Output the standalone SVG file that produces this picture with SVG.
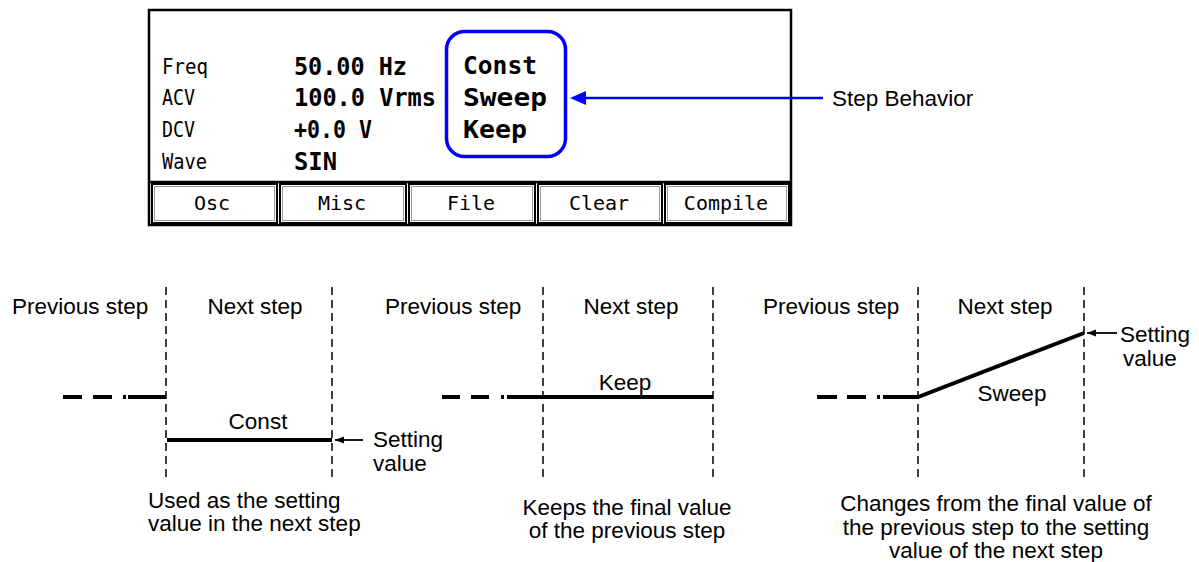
<svg xmlns="http://www.w3.org/2000/svg" width="1199" height="562" viewBox="0 0 1199 562">
<defs>
<style>
.lbl{font-family:"DejaVu Sans Mono","Liberation Mono",monospace;font-size:20.5px;fill:#000}
.val{font-family:"DejaVu Sans Mono","Liberation Mono",monospace;font-size:24.5px;font-weight:bold;fill:#000}
.btn{font-family:"DejaVu Sans Mono","Liberation Mono",monospace;font-size:20px;fill:#000;text-anchor:middle}
.t{font-family:"Liberation Sans",Arial,Helvetica,sans-serif;font-size:22.5px;fill:#000}
.c{text-anchor:middle}
.vd{stroke:#000;stroke-width:1.5;stroke-dasharray:8,5;fill:none}
.thick{stroke:#000;stroke-width:4;fill:none}
.bo{fill:#fff;stroke:#000;stroke-width:2}
.bi{fill:none;stroke:#999;stroke-width:1}
</style>
<marker id="ah" viewBox="0 0 10 10" refX="10" refY="5" markerWidth="9" markerHeight="9" markerUnits="userSpaceOnUse" orient="auto">
<path d="M0,1 L10,5 L0,9 z" fill="#000"/>
</marker>
</defs>
<rect width="1199" height="562" fill="#fff"/>

<g id="screen">
<rect x="149" y="10" width="642" height="215" fill="#fff" stroke="#000" stroke-width="2.5"/>
<line x1="149" y1="182" x2="791" y2="182" stroke="#000" stroke-width="2.5"/>
<text class="lbl" x="162" y="74" textLength="46" lengthAdjust="spacingAndGlyphs">Freq</text>
<text class="lbl" x="162" y="105" textLength="33" lengthAdjust="spacingAndGlyphs">ACV</text>
<text class="lbl" x="162" y="137" textLength="33" lengthAdjust="spacingAndGlyphs">DCV</text>
<text class="lbl" x="162" y="169" textLength="45" lengthAdjust="spacingAndGlyphs">Wave</text>
<text class="val" x="294" y="75" textLength="113" lengthAdjust="spacingAndGlyphs">50.00 Hz</text>
<text class="val" x="294" y="106" textLength="142" lengthAdjust="spacingAndGlyphs">100.0 Vrms</text>
<text class="val" x="294" y="138" textLength="78" lengthAdjust="spacingAndGlyphs">+0.0 V</text>
<text class="val" x="294" y="170" textLength="43" lengthAdjust="spacingAndGlyphs">SIN</text>
<text class="val" x="463" y="74" textLength="74" lengthAdjust="spacingAndGlyphs">Const</text>
<text class="val" x="463" y="106" textLength="84" lengthAdjust="spacingAndGlyphs">Sweep</text>
<text class="val" x="463" y="138" textLength="64" lengthAdjust="spacingAndGlyphs">Keep</text>
</g>

<g id="btn-osc">
<rect class="bo" x="152" y="184" width="125" height="39"/>
<rect class="bi" x="154.5" y="186.5" width="120" height="34"/>
<text class="btn" x="212" y="210">Osc</text>
</g>
<g id="btn-misc">
<rect class="bo" x="280" y="184" width="126" height="39"/>
<rect class="bi" x="282.5" y="186.5" width="121" height="34"/>
<text class="btn" x="342" y="210">Misc</text>
</g>
<g id="btn-file">
<rect class="bo" x="409" y="184" width="126" height="39"/>
<rect class="bi" x="411.5" y="186.5" width="121" height="34"/>
<text class="btn" x="471" y="210">File</text>
</g>
<g id="btn-clear">
<rect class="bo" x="538" y="184" width="124" height="39"/>
<rect class="bi" x="540.5" y="186.5" width="119" height="34"/>
<text class="btn" x="599" y="210">Clear</text>
</g>
<g id="btn-compile">
<rect class="bo" x="665" y="184" width="124" height="39"/>
<rect class="bi" x="667.5" y="186.5" width="119" height="34"/>
<text class="btn" x="726" y="210">Compile</text>
</g>

<g id="step-behavior-box">
<rect x="446.5" y="31.5" width="119" height="125" rx="18" ry="18" fill="none" stroke="#0000ff" stroke-width="3.5"/>
</g>
<g id="step-behavior-label">
<text class="t" x="832" y="106">Step Behavior</text>
</g>

<g id="panel-const">
<text class="t" x="12" y="314">Previous step</text>
<text class="t c" x="255" y="314">Next step</text>
<text class="t c" x="258" y="429">Const</text>
<text class="t" x="373" y="447">Setting</text>
<text class="t" x="373" y="471">value</text>
<text class="t" x="148" y="508">Used as the setting</text>
<text class="t" x="148" y="531">value in the next step</text>
</g>

<g id="panel-keep">
<text class="t" x="385" y="314">Previous step</text>
<text class="t c" x="631" y="314">Next step</text>
<text class="t c" x="625" y="390">Keep</text>
<text class="t c" x="627" y="515">Keeps the final value</text>
<text class="t c" x="627" y="538">of the previous step</text>
</g>

<g id="panel-sweep">
<text class="t" x="763" y="314">Previous step</text>
<text class="t c" x="1005" y="314">Next step</text>
<text class="t c" x="1012" y="401">Sweep</text>
<text class="t" x="1120" y="342">Setting</text>
<text class="t" x="1123" y="366">value</text>
<text class="t c" x="996" y="511">Changes from the final value of</text>
<text class="t c" x="996" y="535">the previous step to the setting</text>
<text class="t c" x="996" y="558">value of the next step</text>
</g>

<g id="connectors">
<line x1="823" y1="98" x2="584" y2="98" stroke="#0000ff" stroke-width="2.5"/>
<path d="M570,98 L586,91 L586,105 z" fill="#0000ff"/>

<line class="vd" x1="166" y1="287" x2="166" y2="481"/>
<line class="vd" x1="332" y1="287" x2="332" y2="481"/>
<line class="vd" x1="543" y1="287" x2="543" y2="481"/>
<line class="vd" x1="713" y1="287" x2="713" y2="481"/>
<line class="vd" x1="918" y1="287" x2="918" y2="481"/>
<line class="vd" x1="1084" y1="287" x2="1084" y2="481"/>

<path class="thick" d="M63,397 H82 M93,397 H112 M123,397 H126 M128,397 H166"/>
<path class="thick" d="M167,440 H332"/>
<line x1="363" y1="440" x2="335" y2="440" stroke="#000" stroke-width="1.8" marker-end="url(#ah)"/>

<path class="thick" d="M442,397 H460 M471,397 H489 M501,397 H504 M507,397 H713"/>

<path class="thick" d="M817,397 H837 M847,397 H866 M877,397 H880 M883,397 H918 L1084,333"/>
<line x1="1117" y1="333" x2="1087" y2="333" stroke="#000" stroke-width="1.8" marker-end="url(#ah)"/>
</g>
</svg>
